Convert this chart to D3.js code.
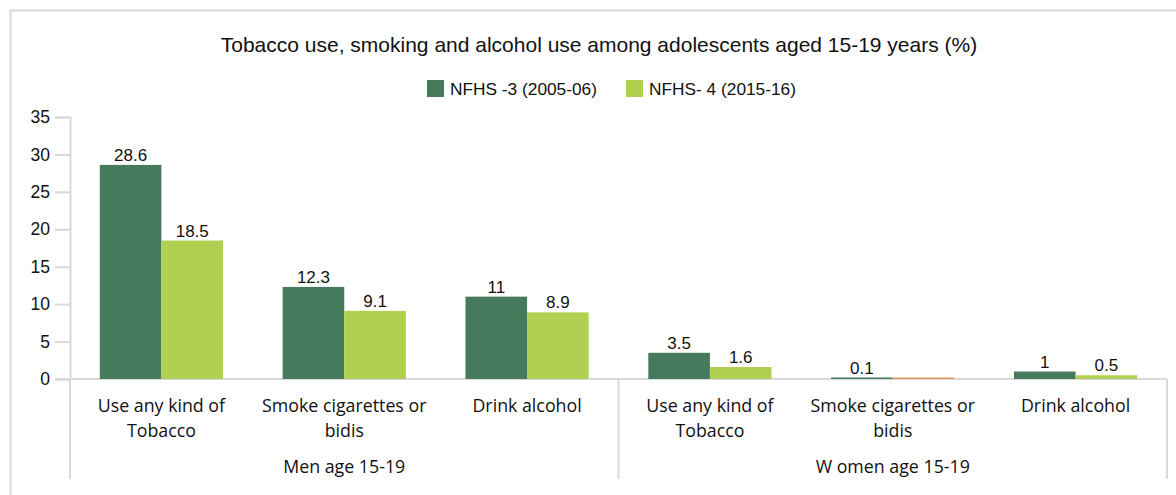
<!DOCTYPE html>
<html>
<head>
<meta charset="utf-8">
<script src="https://cdn.jsdelivr.net/npm/d3@7"></script>
<style>
  body { margin: 0; background: #fff; }
  svg { display: block; }
</style>
</head>
<body>
<svg id="chart"></svg>
<script>
// chart data
const groups = ["Men age 15-19", "W omen age 15-19"];
const indicators = ["Use any kind of\nTobacco", "Smoke cigarettes or\nbidis", "Drink alcohol"];
const seriesNames = ["NFHS -3 (2005-06)", "NFHS- 4 (2015-16)"];
const nfhs3 = [28.6, 12.3, 11, 3.5, 0.1, 1];
const nfhs4 = [18.5, 9.1, 8.9, 1.6, 0, 0.5];
const yTicks = [0, 5, 10, 15, 20, 25, 30, 35];
const title = "Tobacco use, smoking and alcohol use among adolescents aged 15-19 years (%)";

const width = 1176, height = 495;
const colors = ["#467a5c", "#b1d052"];
const zeroColor = "#e09a5a";
const gridColor = "#d9d9d9";
const arial = "'Liberation Sans', Arial, sans-serif";
const segoe = "'Open Sans', 'Noto Sans', sans-serif";

const svg = d3.select("#chart")
  .attr("width", width)
  .attr("height", height);

// outer frame
svg.append("rect")
  .attr("x", 10.5).attr("y", 10.5)
  .attr("width", width + 20).attr("height", height + 20)
  .attr("fill", "none")
  .attr("stroke", gridColor)
  .attr("stroke-width", 2);

svg.append("text")
  .attr("x", 599).attr("y", 52)
  .attr("text-anchor", "middle")
  .style("font-family", arial)
  .style("font-size", "21px")
  .attr("fill", "#111")
  .text(title);

// legend
const legendX = [427, 626];
seriesNames.forEach(function (name, i) {
  svg.append("rect")
    .attr("x", legendX[i]).attr("y", 80)
    .attr("width", 17).attr("height", 17)
    .attr("fill", colors[i]);
  svg.append("text")
    .attr("x", legendX[i] + 23).attr("y", 95)
    .style("font-family", arial)
    .style("font-size", "17.3px")
    .attr("fill", "#111")
    .text(name);
});

// categories = group x indicator
const cats = [];
groups.forEach((g, gi) => indicators.forEach((ind, ii) => cats.push({ key: gi + "-" + ii, group: g, label: ind })));

const x0 = d3.scaleBand()
  .domain(cats.map(d => d.key))
  .range([70, 1167])
  .padding(0);

const x1 = d3.scaleBand()
  .domain([0, 1])
  .range([x0.bandwidth() * 0.163, x0.bandwidth() * 0.837]);

const y = d3.scaleLinear()
  .domain([0, 35])
  .range([379, 117]);

// y axis
const yAxis = svg.append("g")
  .attr("transform", "translate(70,0)")
  .call(d3.axisLeft(y).tickValues(yTicks).tickSize(15).tickPadding(5));
yAxis.select(".domain").attr("stroke", gridColor).attr("stroke-width", 2);
yAxis.selectAll(".tick line").attr("stroke", gridColor).attr("stroke-width", 2);
yAxis.selectAll(".tick text")
  .attr("fill", "#111")
  .style("font-family", arial)
  .style("font-size", "17.5px");

// x baseline
svg.append("line")
  .attr("x1", 55).attr("x2", 1167)
  .attr("y1", y(0)).attr("y2", y(0))
  .attr("stroke", gridColor).attr("stroke-width", 2);

// group dividers
[70, (70 + 1167) / 2, 1167].forEach(function (dx) {
  svg.append("line")
    .attr("x1", dx).attr("x2", dx)
    .attr("y1", y(0)).attr("y2", 479)
    .attr("stroke", gridColor).attr("stroke-width", 2);
});

// bars
const rows = cats.map((c, i) => ({ key: c.key, values: [nfhs3[i], nfhs4[i]] }));
const catG = svg.selectAll(".cat")
  .data(rows)
  .enter()
  .append("g")
  .attr("class", "cat")
  .attr("transform", d => `translate(${x0(d.key)},0)`);

catG.selectAll("rect")
  .data(d => d.values.map((v, s) => ({ v: v, s: s })))
  .enter()
  .append("rect")
  .attr("x", d => x1(d.s))
  .attr("width", x1.bandwidth())
  .attr("y", d => d.v === 0 ? y(0) - 1.5 : Math.min(y(d.v), y(0) - 1.5))
  .attr("height", d => d.v === 0 ? 1.5 : Math.max(y(0) - y(d.v), 1.5))
  .attr("fill", d => d.v === 0 ? zeroColor : colors[d.s]);

catG.selectAll(".val")
  .data(d => d.values.map((v, s) => ({ v: v, s: s })).filter(d => d.v !== 0))
  .enter()
  .append("text")
  .attr("class", "val")
  .attr("x", d => x1(d.s) + x1.bandwidth() / 2)
  .attr("y", d => y(d.v) - 4)
  .attr("text-anchor", "middle")
  .style("font-family", arial)
  .style("font-size", "17px")
  .attr("fill", "#111")
  .text(d => d.v);

// category labels
cats.forEach(function (c) {
  const cx = x0(c.key) + x0.bandwidth() / 2;
  c.label.split("\n").forEach(function (line, li) {
    svg.append("text")
      .attr("x", cx).attr("y", 412 + li * 25)
      .attr("text-anchor", "middle")
      .style("font-family", segoe)
      .style("font-size", "17.8px")
      .attr("fill", "#111")
      .text(line);
  });
});

groups.forEach(function (g, gi) {
  const gx = (x0(gi + "-0") + x0(gi + "-2") + x0.bandwidth()) / 2;
  svg.append("text")
    .attr("x", gx).attr("y", 473)
    .attr("text-anchor", "middle")
    .style("font-family", segoe)
    .style("font-size", "17.8px")
    .attr("fill", "#111")
    .text(g);
});
</script>
</body>
</html>
